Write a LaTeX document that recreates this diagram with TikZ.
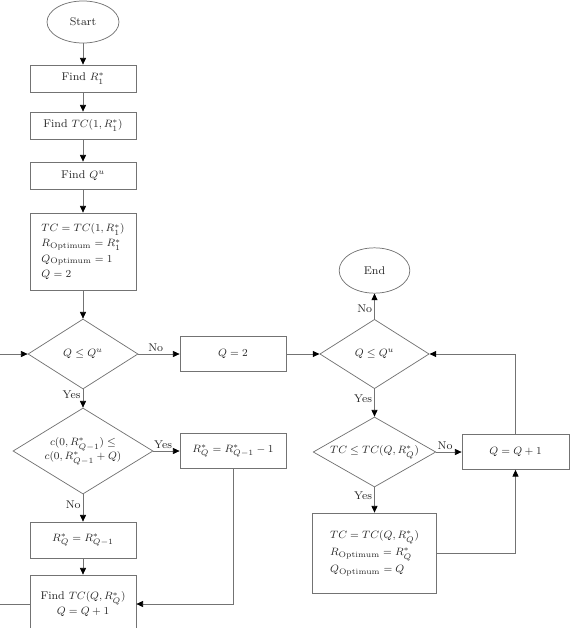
\documentclass[tikz,border=0pt]{standalone}
\usetikzlibrary{positioning,arrows.meta,shapes.geometric}
\definecolor{LineGray}{RGB}{115,115,115}
\definecolor{TextGray}{RGB}{40,40,40}

\begin{document}
\begin{tikzpicture}[x=0.75pt, y=-0.75pt, line width=0.55pt,
  every node/.style={font=\fontsize{8.4}{10.7}\selectfont, text=TextGray},
  box/.style={draw=LineGray, rectangle, minimum width=79.5pt, inner sep=2pt},
  decision/.style={draw=LineGray, diamond, aspect=2, inner sep=0pt},
  term/.style={draw=LineGray, ellipse, inner sep=0pt},
  flow/.style={draw=LineGray, -{Triangle[length=5pt,width=4.5pt,color=black]}},
  lbl/.style={inner sep=1.5pt}]
  \path[use as bounding box, clip] (0,0) rectangle (575,628);

  % left column
  \node[term, minimum width=54pt, minimum height=31.5pt] (start) at (83,22) {Start};
  \node[box, minimum height=20.25pt] (findr) at (83,78.5) {Find $R_1^*$};
  \node[box, minimum height=20.25pt] (findtc) at (83,125.5) {Find $TC(1,R_1^*)$};
  \node[box, minimum height=20.25pt] (findqu) at (83,175.5) {Find $Q^{u}$};
  \node[box, minimum height=57.75pt, align=left] (init) at (83,251.5)
    {$TC = TC(1,R_1^*)$\\[0.6pt] $R_{\mathrm{Optimum}} = R_1^*$\\[0.6pt] $Q_{\mathrm{Optimum}} = 1$\\[0.6pt] $Q = 2$};
  \node[decision, minimum width=82.5pt, minimum height=52.5pt] (dec1) at (83,354) {$Q \le Q^{u}$};
  \node[box, minimum height=26.25pt] (qtwo) at (233,354) {$Q = 2$};
  \node[decision, minimum width=105pt, minimum height=64.5pt, align=center] (dec2) at (83,451)
    {$c(0,R^*_{Q-1}) \le$\\ $c(0,R^*_{Q-1}+Q)$};
  \node[box, minimum height=26.25pt] (rminus) at (233,451) {$R_Q^* = R^*_{Q-1} - 1$};
  \node[box, minimum height=27pt] (rsame) at (83,540) {$R_Q^* = R^*_{Q-1}$};
  \node[box, minimum height=43.5pt, align=center] (findtcq) at (83,604)
    {Find $TC(Q,R_Q^*)$\\ $Q = Q + 1$};

  % right column
  \node[term, minimum width=53pt, minimum height=34pt] (endn) at (374.5,270.5) {End};
  \node[decision, minimum width=82pt, minimum height=52pt] (dec3) at (374.5,354) {$Q \le Q^{u}$};
  \node[decision, minimum width=92pt, minimum height=52.5pt] (dec4) at (374.5,452) {$TC \le TC(Q,R_Q^*)$};
  \node[box, minimum width=80.25pt, minimum height=26.25pt] (qplus) at (515.5,452) {$Q = Q + 1$};
  \node[box, minimum width=93pt, minimum height=60pt, align=left] (final) at (374.5,553)
    {$TC = TC(Q,R_Q^*)$\\[2pt] $R_{\mathrm{Optimum}} = R_Q^*$\\[2pt] $Q_{\mathrm{Optimum}} = Q$};

  \draw[flow] (start) -- (findr);
  \draw[flow] (findr) -- (findtc);
  \draw[flow] (findtc) -- (findqu);
  \draw[flow] (findqu) -- (init);
  \draw[flow] (init) -- (dec1);
  \draw[flow] (dec1) -- node[lbl, above, pos=0.42] {No} (qtwo);
  \draw[flow] (dec1) -- node[lbl, left, pos=0.3] {Yes} (dec2);
  \draw[flow] (dec2) -- node[lbl, above, pos=0.37] {Yes} (rminus);
  \draw[flow] (dec2) -- node[lbl, left, pos=0.37] {No} (rsame);
  \draw[flow] (rsame) -- (findtcq);
  \draw[flow] (rminus.south) |- (findtcq.east);
  \draw[flow] (findtcq.west) -- ++(-60,0) |- (dec1.west);

  \draw[flow] (qtwo) -- (dec3);
  \draw[flow] (dec3) -- node[lbl, left, pos=0.4] {No} (endn);
  \draw[flow] (dec3) -- node[lbl, left, pos=0.35] {Yes} (dec4);
  \draw[flow] (dec4) -- node[lbl, above, pos=0.35] {No} (qplus);
  \draw[flow] (dec4) -- node[lbl, left, pos=0.35] {Yes} (final);
  \draw[flow] (final.east) -| (qplus.south);
  \draw[flow] (qplus.north) |- (dec3.east);
\end{tikzpicture}
\end{document}
